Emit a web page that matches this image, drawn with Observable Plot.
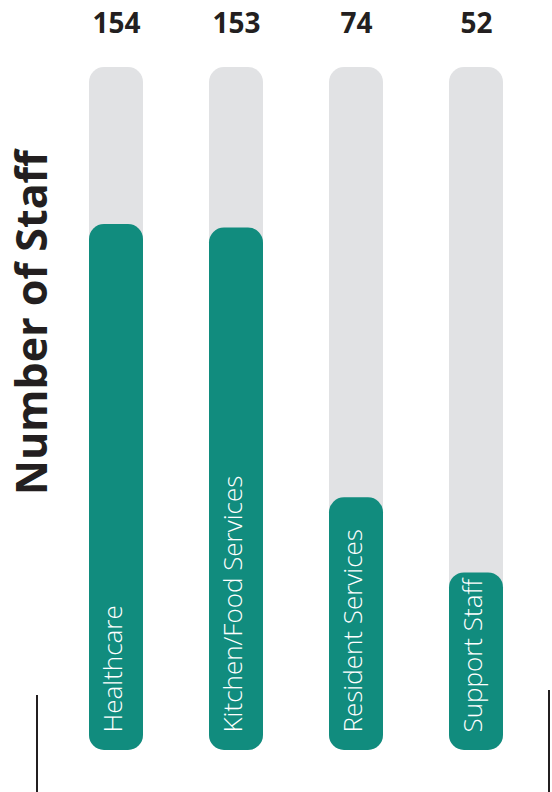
<!DOCTYPE html>
<html>
<head>
<meta charset="utf-8">
<script src="https://cdn.jsdelivr.net/npm/d3@7"></script>
<script src="https://cdn.jsdelivr.net/npm/@observablehq/plot@0.6"></script>
<style>
  html, body { margin: 0; padding: 0; background: #fff; }
  #wrap { position: relative; width: 552px; height: 792px; overflow: hidden; }
  .deco { position: absolute; width: 2px; background: #231f20; bottom: 0; }
</style>
</head>
<body>
<div id="wrap">
  <div id="chart"></div>
  <div class="deco" style="left:36px; top:695px;"></div>
  <div class="deco" style="left:548px; top:690px;"></div>
</div>
<script>
const categories = ["Healthcare", "Kitchen/Food Services", "Resident Services", "Support Staff"];
const values = [154, 153, 74, 52];
const maxValue = 200;
const yTitle = "Number of Staff";

const data = categories.map((c, i) => ({category: c, value: values[i], max: maxValue}));

const teal = "#118c7e";
const grey = "#e1e2e4";
const ink = "#231f20";

const chart = Plot.plot({
  width: 552,
  height: 792,
  marginLeft: 56,
  marginRight: 16,
  marginTop: 67,
  marginBottom: 42,
  style: {fontFamily: "'Open Sans', sans-serif", background: "#fff"},
  x: {domain: categories, paddingInner: 0.55, paddingOuter: 0.275, axis: null},
  y: {domain: [0, maxValue], axis: null},
  marks: [
    Plot.barY(data, {x: "category", y: "max", fill: grey, rx: 15}),
    Plot.barY(data, {x: "category", y: "value", fill: teal, rx: 15}),
    Plot.text(data, {
      x: "category", y: "max", text: d => String(d.value),
      dy: -43, fill: ink, fontSize: 28, fontWeight: "bold"
    }),
    Plot.text(data, {
      x: "category", y: 0, text: "category",
      rotate: -90, textAnchor: "start", dy: -18, dx: -3,
      fill: "#fff", fontSize: 26, fontWeight: 300
    }),
    Plot.text([yTitle], {
      frameAnchor: "top-left", text: d => d, rotate: -90,
      textAnchor: "middle", dx: -40, dy: 255,
      fill: ink, fontSize: 43, fontWeight: "bold"
    })
  ]
});
document.getElementById("chart").appendChild(chart);
</script>
</body>
</html>
